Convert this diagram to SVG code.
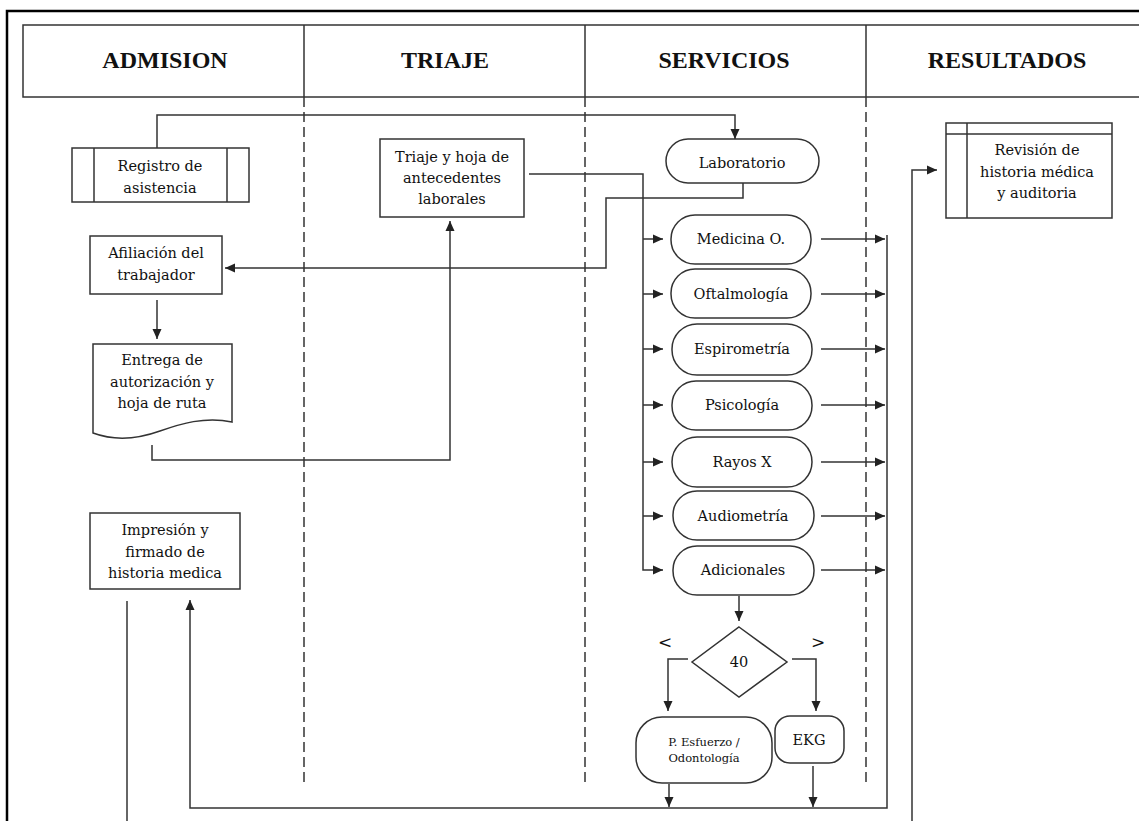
<svg xmlns="http://www.w3.org/2000/svg" width="1139" height="821" viewBox="0 0 1139 821">
<defs>
<marker id="ah" markerUnits="userSpaceOnUse" markerWidth="10" markerHeight="10" refX="10" refY="5" orient="auto">
<path d="M0,0.5 L10,5 L0,9.5 z" fill="#222"/>
</marker>
<style>
.frame{fill:none;stroke:#000;stroke-width:2.5}
.hdr{fill:#fff;stroke:#333;stroke-width:1.5}
.div{stroke:#333;stroke-width:1.5}
.dash{stroke:#333;stroke-width:1.5;stroke-dasharray:10 5;fill:none}
.box{fill:#fff;stroke:#333;stroke-width:1.5}
.ln{fill:none;stroke:#333;stroke-width:1.5}
.arr{fill:none;stroke:#333;stroke-width:1.5;marker-end:url(#ah)}
.ht{font-family:"Liberation Serif",serif;font-weight:bold;font-size:24px;fill:#111;text-anchor:middle}
.t{font-family:"DejaVu Serif",serif;font-size:14.5px;fill:#111;text-anchor:middle}
.ts{font-family:"DejaVu Serif",serif;font-size:11.5px;fill:#111;text-anchor:middle}
.sym{font-family:"DejaVu Serif",serif;font-size:17px;fill:#111;text-anchor:middle}
</style>
</defs>
<rect width="1139" height="821" fill="#fff"/>
<g id="frame">
<path class="frame" d="M7,830 V11 H1150"/>
</g>
<g id="header">
<rect class="hdr" x="23" y="25" width="1140" height="72"/>
<line class="div" x1="304" y1="25" x2="304" y2="97"/>
<line class="div" x1="585" y1="25" x2="585" y2="97"/>
<line class="div" x1="866" y1="25" x2="866" y2="97"/>
<text class="ht" x="165" y="68">ADMISION</text>
<text class="ht" x="445" y="68">TRIAJE</text>
<text class="ht" x="724" y="68">SERVICIOS</text>
<text class="ht" x="1007" y="68">RESULTADOS</text>
</g>
<g id="lanes">
<line class="dash" x1="304" y1="97" x2="304" y2="783"/>
<line class="dash" x1="585" y1="97" x2="585" y2="783"/>
<line class="dash" x1="866" y1="97" x2="866" y2="783"/>
</g>
<g id="connectors">
<path class="arr" d="M157,148 V115 H735 V139"/>
<path class="arr" d="M743,183 V198 H606 V268 H225"/>
<path class="arr" d="M157,300 V339"/>
<path class="arr" d="M152,445 V460 H450 V221"/>
<path class="arr" d="M529,174 H643 V570 H663"/>
<path class="arr" d="M643,239 H663"/>
<path class="arr" d="M643,294 H663"/>
<path class="arr" d="M643,349 H663"/>
<path class="arr" d="M643,405 H663"/>
<path class="arr" d="M643,462 H663"/>
<path class="arr" d="M643,516 H663"/>
<path class="arr" d="M821,239 H885"/>
<path class="arr" d="M821,294 H885"/>
<path class="arr" d="M821,349 H885"/>
<path class="arr" d="M821,405 H885"/>
<path class="arr" d="M821,462 H885"/>
<path class="arr" d="M821,516 H885"/>
<path class="arr" d="M821,570 H885"/>
<path class="arr" d="M887,235 V808 H190 V600"/>
<path class="arr" d="M739,596 V621"/>
<path class="arr" d="M688,659 H668 V711"/>
<path class="arr" d="M792,659 H816 V711"/>
<path class="arr" d="M669,784 V807"/>
<path class="arr" d="M813,766 V807"/>
<path class="ln" d="M127,601 V821"/>
<path class="arr" d="M912,821 V170 H937"/>
</g>
<g id="registro">
<rect class="box" x="72" y="148" width="177" height="54"/>
<line class="ln" x1="94" y1="148" x2="94" y2="202"/>
<line class="ln" x1="227" y1="148" x2="227" y2="202"/>
<text class="t" x="160" y="171">Registro de</text>
<text class="t" x="160" y="193">asistencia</text>
</g>
<g id="afiliacion">
<rect class="box" x="90" y="236" width="132" height="58"/>
<text class="t" x="156" y="258">Afiliación del</text>
<text class="t" x="156" y="280">trabajador</text>
</g>
<g id="entrega">
<path class="box" d="M93,344 H232 V422 C205,416 180,424 160,431 C135,440 112,440 93,433 Z"/>
<text class="t" x="162" y="365">Entrega de</text>
<text class="t" x="162" y="387">autorización y</text>
<text class="t" x="162" y="408">hoja de ruta</text>
</g>
<g id="impresion">
<rect class="box" x="90" y="513" width="150" height="76"/>
<text class="t" x="165" y="535">Impresión y</text>
<text class="t" x="165" y="557">firmado de</text>
<text class="t" x="165" y="578">historia medica</text>
</g>
<g id="triaje">
<rect class="box" x="380" y="139" width="144" height="78"/>
<text class="t" x="452" y="162">Triaje y hoja de</text>
<text class="t" x="452" y="183">antecedentes</text>
<text class="t" x="452" y="204">laborales</text>
</g>
<g id="laboratorio">
<rect class="box" x="666" y="139" width="153" height="44" rx="22"/>
<text class="t" x="742" y="168">Laboratorio</text>
</g>
<g id="medicina">
<rect class="box" x="671" y="215" width="140" height="49" rx="24"/>
<text class="t" x="741" y="244">Medicina O.</text>
</g>
<g id="oftalmologia">
<rect class="box" x="671" y="269" width="140" height="49" rx="24"/>
<text class="t" x="741" y="299">Oftalmología</text>
</g>
<g id="espirometria">
<rect class="box" x="672" y="324" width="140" height="51" rx="25"/>
<text class="t" x="742" y="354">Espirometría</text>
</g>
<g id="psicologia">
<rect class="box" x="672" y="381" width="140" height="49" rx="24"/>
<text class="t" x="742" y="410">Psicología</text>
</g>
<g id="rayosx">
<rect class="box" x="672" y="437" width="140" height="50" rx="25"/>
<text class="t" x="742" y="467">Rayos X</text>
</g>
<g id="audiometria">
<rect class="box" x="673" y="491" width="141" height="49" rx="24"/>
<text class="t" x="743" y="521">Audiometría</text>
</g>
<g id="adicionales">
<rect class="box" x="673" y="546" width="141" height="49" rx="24"/>
<text class="t" x="743" y="575">Adicionales</text>
</g>
<g id="decision">
<polygon class="box" points="739,627 787,662 739,697 692,662"/>
<text class="t" x="739" y="667">40</text>
<text class="sym" x="665" y="648">&lt;</text>
<text class="sym" x="818" y="648">&gt;</text>
</g>
<g id="esfuerzo">
<rect class="box" x="636" y="717" width="136" height="66" rx="26"/>
<text class="ts" x="704" y="746">P. Esfuerzo /</text>
<text class="ts" x="704" y="762">Odontología</text>
</g>
<g id="ekg">
<rect class="box" x="775" y="716" width="69" height="47" rx="15"/>
<text class="t" x="809" y="745">EKG</text>
</g>
<g id="revision">
<rect class="box" x="946" y="123" width="166" height="95"/>
<line class="ln" x1="946" y1="134" x2="1112" y2="134"/>
<line class="ln" x1="967" y1="123" x2="967" y2="218"/>
<text class="t" x="1037" y="155">Revisión de</text>
<text class="t" x="1037" y="177">historia médica</text>
<text class="t" x="1037" y="198">y auditoria</text>
</g>
</svg>
